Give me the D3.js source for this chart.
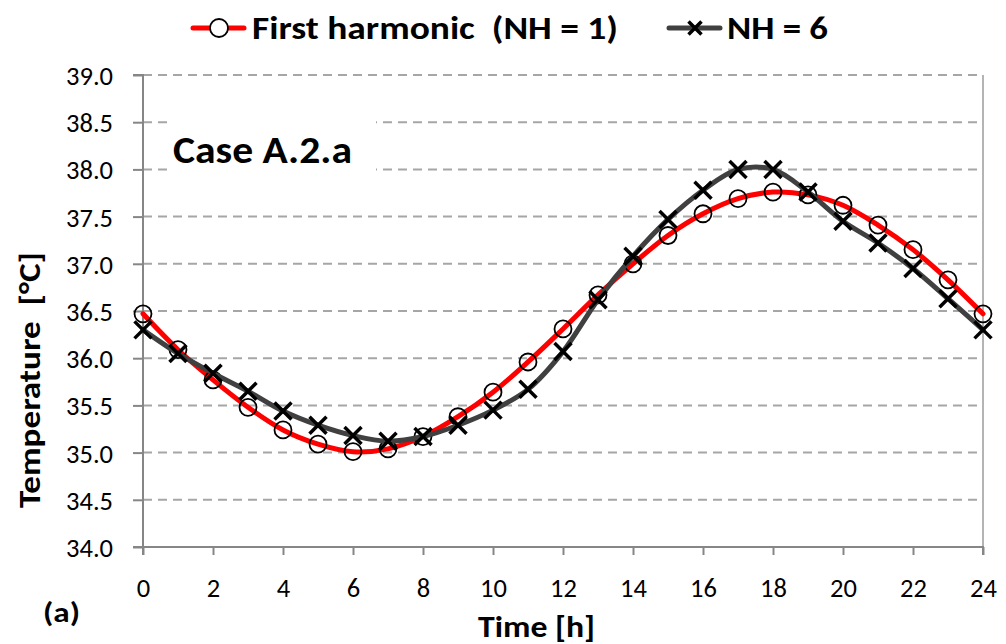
<!DOCTYPE html>
<html>
<head>
<meta charset="utf-8">
<script src="https://cdn.jsdelivr.net/npm/d3@7/dist/d3.min.js"></script>
<style>
  html, body { margin: 0; padding: 0; background: #fff; }
  svg { display: block; font-family: Carlito, Lato, "Open Sans", sans-serif; }
  text { white-space: pre; }
</style>
</head>
<body>
<svg id="chart" width="1006" height="644"></svg>
<script>
// Hourly temperatures over one day
const hours = [0,1,2,3,4,5,6,7,8,9,10,11,12,13,14,15,16,17,18,19,20,21,22,23,24];
const firstHarmonic = [36.47,36.09,35.77,35.48,35.24,35.09,35.01,35.04,35.17,35.38,35.64,35.96,36.31,36.67,37.00,37.30,37.53,37.69,37.76,37.73,37.62,37.41,37.15,36.83,36.47];
const nh6 = [36.30,36.05,35.84,35.65,35.44,35.29,35.18,35.12,35.17,35.29,35.45,35.67,36.07,36.62,37.08,37.47,37.78,38.00,38.00,37.76,37.45,37.22,36.95,36.63,36.30];
const xTicks = [0,2,4,6,8,10,12,14,16,18,20,22,24];
const yTicks = [34.0,34.5,35.0,35.5,36.0,36.5,37.0,37.5,38.0,38.5,39.0];
const seriesNames = ["First harmonic  (NH = 1)", "NH = 6"];

const svg = d3.select("#chart");
const x = d3.scaleLinear().domain([0, 24]).range([143, 983]);
const y = d3.scaleLinear().domain([34, 39]).range([547, 75]);

// horizontal dashed gridlines
svg.append("g").selectAll("line").data(yTicks.slice(1)).join("line")
  .attr("x1", x(0)).attr("x2", x(24))
  .attr("y1", d => y(d)).attr("y2", d => y(d))
  .attr("stroke", "#a6a6a6").attr("stroke-width", 2).attr("stroke-dasharray", "9,6");

// right border of plot area
svg.append("line").attr("x1", x(24)).attr("x2", x(24)).attr("y1", y(39)).attr("y2", y(34))
  .attr("stroke", "#b4b4b4").attr("stroke-width", 2);

// axes
const yAxis = d3.axisLeft(y).tickValues(yTicks).tickFormat(d3.format(".1f")).tickSize(10).tickPadding(20);
const xAxis = d3.axisBottom(x).tickValues(xTicks).tickFormat(d3.format("d")).tickSize(8).tickPadding(23);

const gy = svg.append("g").attr("transform", `translate(${x(0)},0)`).call(yAxis);
const gx = svg.append("g").attr("transform", `translate(0,${y(34)})`).call(xAxis);
[gx, gy].forEach(g => {
  g.select(".domain").attr("stroke", "#868686").attr("stroke-width", 2);
  g.selectAll(".tick line").attr("stroke", "#868686").attr("stroke-width", 2);
  g.selectAll(".tick text").attr("fill", "#000").style("font-size", "26.5px")
    .style("font-family", "Carlito, Lato, sans-serif");
});
gy.select(".domain").attr("d", `M-10,${y(39)}H0V${y(34)}H-10`);
gx.select(".domain").attr("d", `M${x(0)},8V0H${x(24)}V8`);
gy.selectAll(".tick text").attr("dy", "0.36em");
gx.selectAll(".tick text").attr("dy", "0.72em");

// case label on a white box
svg.append("rect").attr("x", 172).attr("y", 121).attr("width", 204).attr("height", 51).attr("fill", "#fff");
svg.append("text").attr("x", 173).attr("y", 163).text("Case A.2.a")
  .attr("textLength", 179).attr("lengthAdjust", "spacingAndGlyphs")
  .style("font-weight", "bold").style("font-size", "38px");

// series lines
const line = d3.line().x((d, i) => x(hours[i])).y(d => y(d)).curve(d3.curveCatmullRom.alpha(0.5));
svg.append("path").datum(firstHarmonic).attr("d", line)
  .attr("fill", "none").attr("stroke", "#ff0000").attr("stroke-width", 5).attr("stroke-linecap", "round");
svg.append("g").selectAll("circle").data(firstHarmonic).join("circle")
  .attr("cx", (d, i) => x(hours[i])).attr("cy", d => y(d)).attr("r", 8.5)
  .attr("fill", "none").attr("stroke", "#000").attr("stroke-width", 1.8);

svg.append("path").datum(nh6).attr("d", line)
  .attr("fill", "none").attr("stroke", "#404040").attr("stroke-width", 5).attr("stroke-linecap", "round");
const cross = (s) => `M${-s},${-s}L${s},${s}M${-s},${s}L${s},${-s}`;
svg.append("g").selectAll("path").data(nh6).join("path")
  .attr("transform", (d, i) => `translate(${x(hours[i])},${y(d)})`)
  .attr("d", cross(8.5)).attr("stroke", "#000").attr("stroke-width", 3.5).attr("fill", "none");

// axis titles
svg.append("text").attr("transform", "translate(40,380) rotate(-90)").attr("text-anchor", "middle")
  .text("Temperature  [°C]").attr("textLength", 256).attr("lengthAdjust", "spacingAndGlyphs")
  .style("font-weight", "bold").style("font-size", "30px");
svg.append("text").attr("x", 478).attr("y", 637)
  .text("Time [h]").attr("textLength", 117).attr("lengthAdjust", "spacingAndGlyphs")
  .style("font-weight", "bold").style("font-size", "31px");
svg.append("text").attr("x", 43).attr("y", 622)
  .text("(a)").attr("textLength", 37).attr("lengthAdjust", "spacingAndGlyphs")
  .style("font-weight", "bold").style("font-size", "29px");

// legend
const lg = svg.append("g");
lg.append("line").attr("x1", 193).attr("x2", 244).attr("y1", 28).attr("y2", 28)
  .attr("stroke", "#ff0000").attr("stroke-width", 5).attr("stroke-linecap", "round");
lg.append("circle").attr("cx", 219).attr("cy", 28).attr("r", 9)
  .attr("fill", "#fff").attr("stroke", "#000").attr("stroke-width", 1.8);
lg.append("text").attr("x", 252).attr("y", 39).text(seriesNames[0])
  .attr("textLength", 366).attr("lengthAdjust", "spacingAndGlyphs")
  .style("font-weight", "bold").style("font-size", "32px");
lg.append("line").attr("x1", 669).attr("x2", 720).attr("y1", 28).attr("y2", 28)
  .attr("stroke", "#404040").attr("stroke-width", 5).attr("stroke-linecap", "round");
lg.append("path").attr("transform", "translate(695,28)").attr("d", cross(6.5))
  .attr("stroke", "#000").attr("stroke-width", 3.5);
lg.append("text").attr("x", 727).attr("y", 39).text(seriesNames[1])
  .attr("textLength", 101).attr("lengthAdjust", "spacingAndGlyphs")
  .style("font-weight", "bold").style("font-size", "32px");
</script>
</body>
</html>
